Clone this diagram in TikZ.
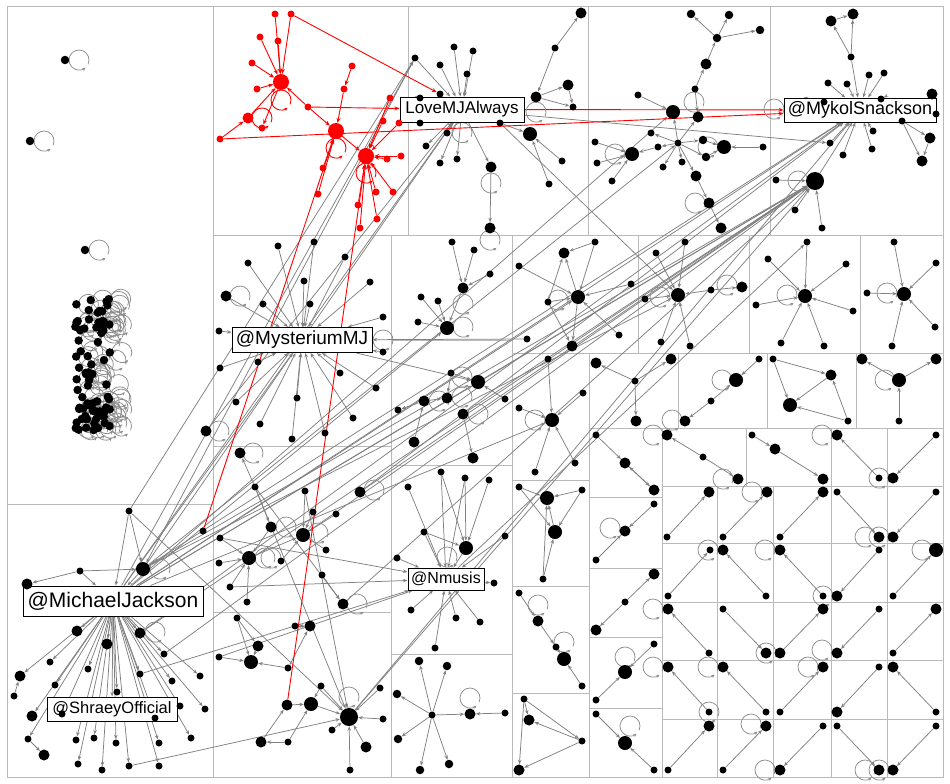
\documentclass[tikz,border=0pt]{standalone}
\usepackage{fontspec}
\setmainfont{Liberation Sans}
\usetikzlibrary{arrows.meta}
\pgfdeclarelayer{bg}
\pgfsetlayers{bg,main}
\definecolor{edg}{RGB}{128,128,128}
\definecolor{lpc}{RGB}{140,140,140}
\definecolor{pan}{RGB}{186,186,186}
\definecolor{rdc}{RGB}{255,0,0}
\tikzset{
 sn/.style={circle,fill=black,draw=none,inner sep=0pt,minimum size=7pt},
 tn/.style={sn,minimum size=8.5pt},
 mn/.style={sn,minimum size=11pt},
 bn/.style={sn,minimum size=14pt},
 hn/.style={sn,minimum size=18pt},
 rsn/.style={sn,fill=rdc},
 rmn/.style={mn,fill=rdc},
 rbn/.style={sn,fill=rdc,minimum size=16pt},
 ge/.style={draw=edg,line width=0.75pt,-{Stealth[length=4.5pt,width=3.5pt]}},
 re/.style={draw=rdc,line width=0.9pt,-{Stealth[length=5pt,width=4pt]}},
 lp/.style={draw=lpc,line width=0.75pt,-{Stealth[length=3.5pt,width=3pt]}},
 rlp/.style={draw=rdc,line width=0.9pt,-{Stealth[length=3.5pt,width=3pt]}},
 pnl/.style={draw=pan,line width=1pt},
 lab/.style={draw=black,fill=white,line width=1pt,inner sep=0pt,text=black},
}
\begin{document}
\begin{tikzpicture}[x=1pt,y=-1pt]
\useasboundingbox (0,0) rectangle (950,784);
% ---------- labels ----------
\node[lab,minimum width=180pt,minimum height=30pt,font=\fontsize{21}{21}\selectfont] (mj) at (113,601) {@MichaelJackson};
\node[lab,minimum width=130pt,minimum height=24pt,font=\fontsize{16.5}{16.5}\selectfont] (sh) at (112,709) {@ShraeyOfficial};
\node[lab,minimum width=140pt,minimum height=25pt,font=\fontsize{19}{19}\selectfont] (mys) at (302,340) {@MysteriumMJ};
\node[lab,minimum width=124pt,minimum height=25pt,font=\fontsize{17}{17}\selectfont] (love) at (462,109.5) {LoveMJAlways};
\node[lab,minimum width=152pt,minimum height=24pt,font=\fontsize{18}{18}\selectfont] (myk) at (860,110) {@MykolSnackson};
\node[lab,minimum width=76pt,minimum height=22pt,font=\fontsize{16}{16}\selectfont] (nm) at (446,579) {@Nmusis};
% ---------- red nodes ----------
\foreach \n/\x/\y in {R1/281/82,R2/336/131,R3/366/156} \node[rbn] (\n) at (\x,\y) {};
\node[rmn] (rA) at (248,118) {};
\foreach \n/\x/\y in {r1/275/14,r2/291/14,r3/260/37,r4/278/41,r5/252/63,r6/257/89,r7/262/128,r8/220/139,r9/308/107,r10/352/66,r11/344/89,r12/390/98,r13/383/121,r14/399/123,r15/401/156,r16/387/159,r17/323/168,r18/318/194,r19/358/205,r20/360/228,r21/376/192,r22/377/219,r23/393/192} \node[rsn] (\n) at (\x,\y) {};
% ---------- small nodes ----------
\foreach \n/\x/\y in {
 l1/415/58,l2/440/65,l3/454/47,l4/473/51,l5/467/74,l6/440/94,l7/420/98,l8/420/123,l9/447/133,l10/426/146,l11/440/163,l12/457/159,l15/500/123,l18/573/107,l20/562/161,l21/549/184,l22/555/48,
 k6/695/89,k9/638/95,k10/651/133,k11/678/143,k12/658/147,k16/763/147,k17/682/162,k18/663/167,k23/595/142,k24/597/163,k25/612/181,
 y3/851/57,y4/828/83,y5/847/84,y6/869/75,y7/884/73,y8/881/99,y9/824/102,y11/936/114,y12/902/121,y13/873/131,y16/830/143,y17/843/155,y18/872/149,y20/776/180,y21/795/210,y22/822/228,
 t1/278/246,t2/314/242,t3/248/263,t4/345/257,t5/304/281,t6/370/282,t8/263/304,t9/310/304,t10/383/317,t11/219/331,t12/383/352,t13/220/368,t14/258/362,t15/340/373,t16/376/388,t17/297/398,t18/236/402,t19/260/424,t20/325/433,t21/292/439,t22/353/418,
 p1/203/531,p2/220/538,p4/219/563,p5/230/587,p6/247/602,p9/326/550,p10/281/561,p11/255/487,p12/305/491,p13/313/512,p14/336/514,p16/322/575,
 u1/237/618,u4/219/657,u5/288/668,u6/295/626,u10/321/686,u12/332/730,u14/383/719,u15/380/688,u17/288/742,u18/350/770,
 v1/452/242,v2/474/250,v3/490/274,v5/421/297,v6/438/301,v8/418/322,
 w1/451/373,w5/398/410,w9/505/399,
 n1/441/472,n2/465/478,n3/489/480,n4/408/487,n5/424/532,n7/505/536,n8/397/558,n9/494/583,n10/411/610,n11/456/618,n12/480/622,n13/435/648,
 x4/432/715,x6/505/713,
 a1/595/242,a3/519/266,a5/631/284,a6/548/302,a7/527/339,a8/619/335,
 b1/656/253,b2/685/242,b4/645/299,b5/711/290,b7/661/342,b8/690/346,
 c1/807/242,c2/768/259,c3/846/264,c5/756/305,c6/853/311,c7/781/343,c8/824/346,
 d1/894/242,d2/936/263,d3/867/293,d5/935/327,d6/892/346,
 e1/548/359,e2/583/393,e3/519/408,e5/535/472,e6/575/463,
 f1/519/487,f3/582/490,f5/543/579,g1/519/593,g3/556/647,g5/582/686,h1/524/699,h3/582/741,
 i2/635/381,j1/759/359,j3/711/401,o1/773/359,o4/848/421,z4/899/421,
 m1/703/457,m4/752/435,m8/879/478,m9/936/435,m11/596/435,m14/654/504,m16/596/560,m18/625/602,m20/654/644,m22/596/700,m23/596/714,m25/654/770,
 G1a/667/537,G2a/723/537,G3a/780/537,G4a/837/492,G5a/936/492,G6a/668/596,G6b/710/550,G7b/766/596,G8b/823/596,G9a/879/550,G10b/893/596,G11b/709/653,G12a/723/609,G14a/879/609,G15b/893/653,G16b/709/712,G17b/766/712,G18b/780/712,G19a/879/667,G20b/936/712,G21a/668/770,G22a/723/770,G23b/823/726,G24a/837/726,G25a/936/726,
 M1/129/511,M2/80/571,M8/50/662,M10/14/696,M11/88/669,M12/55/685,M13/117/692,M14/140/674,M15/164/654,M16/172/681,M17/200/676,M18/205/709,M19/180/706,M21/62/714,M22/155/718,M23/28/739,M25/76/740,M26/94/738,M27/116/743,M28/159/743,M29/191/738,M30/78/764,M31/102/770,M32/129/766,M33/159/766}
 \node[sn] (\n) at (\x,\y) {};
\foreach \n/\x/\y in {P1/65/60,P2/30/141,P3/85/250,k1/691/14,k2/729/15,k3/760/30,k4/717/38,k13/703/140,k14/706/157,x1/419/661,x2/447/666,x3/397/694,x7/398/739,x8/420/770,x9/449/764}
 \node[tn] (\n) at (\x,\y) {};
% ---------- medium nodes ----------
\foreach \n/\x/\y in {l13/491/167,l14/490/228,l16/536/97,l17/568/85,l23/581/13,
 k5/706/64,k7/698/117,k19/696/176,k20/709/203,k21/721/228,
 y1/853/14,y2/831/21,y10/932/94,y14/930/138,y15/922/161,
 t7/226/296,t23/206/431,p7/271/527,p15/360/492,p17/343/604,p18/240/453,
 u2/258/646,u7/310/626,u8/287/705,u13/366/747,u16/261/742,v4/463/288,
 w3/447/398,w4/424/401,w6/463/414,w7/414/442,w8/473/458,x5/470/714,
 a2/564/253,a9/572/346,b6/742/287,g2/538/621,h2/529/720,h4/519/770,
 i1/596/363,i3/671/359,i4/636/421,j4/685/421,o2/831/375,z1/862/359,z2/936/359,
 m2/667/435,m3/738/479,m5/775/449,m6/823/479,m7/837/435,m10/893/478,m12/625/463,m13/654/490,m15/625/531,m17/654/574,m19/596/630,
 G1b/709/492,G2b/767/492,G3b/823/492,G4b/879/537,G5b/893/537,G7a/723/550,G8a/780/550,G9b/837/596,G11a/668/609,G12b/766/653,G13a/780/653,G13b/823/609,G14b/837/653,G15a/936/609,G16a/668/667,G17a/723/667,G18a/823/667,G19b/837/712,G20a/893/667,G21b/709/726,G22b/766/726,G23a/780/770,G24b/879/770,G25b/893/770,
 M3/27/584,M5/77/631,M6/107/644,M7/140/633,M9/20/676,M20/32/716,M24/44/755}
 \node[mn] (\n) at (\x,\y) {};
% ---------- big nodes ----------
\foreach \n/\x/\y in {l19/530/134,k8/673/112,k15/724/147,k22/632/154,p3/249/558,p8/303/535,u3/251/662,u9/311/704,v7/447/328,w2/478/382,n6/466/548,a4/578/297,b3/678/295,c4/805/296,d4/904/294,e4/552/420,f2/547/498,f4/555/532,g4/564/659,j2/736/380,o3/790/405,z3/899/380,m21/625/672,m24/625/743,G10a/936/550,M4/143/569}
 \node[bn] (\n) at (\x,\y) {};
\foreach \n/\x/\y in {y19/815/181,u11/349/717} \node[hn] (\n) at (\x,\y) {};
% ---------- dense cluster ----------
\pgfmathsetseed{12}
\foreach \i in {1,...,75}{
 \pgfmathsetmacro{\cx}{75+36*rnd}
 \pgfmathsetmacro{\cy}{298+134*rnd}
 \node[tn] (cl\i) at (\cx,\cy) {};
 \begin{pgfonlayer}{bg}\draw[lp] ([xshift=12pt]cl\i.center) ++(-25:10pt) arc[start angle=-25,end angle=310,radius=10pt];\end{pgfonlayer}
}
\begin{pgfonlayer}{bg}
% ---------- panels ----------
\foreach \xa/\ya/\xb/\yb in {7/7/943/777,7/7/213/504,7/504/213/777,213/7/408/235,408/7/588/235,588/7/770/235,770/7/943/235,
 213/235/391/446,213/446/391/612,213/612/391/777,391/235/512/340,391/340/512/465,391/465/512/654,391/654/512/777,
 512/235/638/353,638/235/749/353,749/235/860/353,860/235/943/353,
 512/353/589/480,512/480/589/586,512/586/589/693,512/693/589/777,
 589/353/678/428,678/353/767/428,767/353/856/428,856/353/943/428,
 589/428/662/497,589/497/662/568,589/568/662/637,589/637/662/708,589/708/662/777,
 662/428/746/486,746/428/831/486,831/428/887/486,887/428/943/486}
 \draw[pnl] (\xa,\ya) rectangle (\xb,\yb);
\foreach \xa/\xb in {662/717,717/773,773/831,831/887,887/943}
 \foreach \ya/\yb in {486/543,543/602,602/660,660/719,719/777}
  \draw[pnl] (\xa,\ya) rectangle (\xb,\yb);
% ---------- gray edges ----------
\foreach \a/\b in {
 l1/love,l2/love,l3/love,l4/love,l5/love,l6/love,l7/love,l8/love,love/l9,love/l10,love/l11,love/l12,love/l13,l13/l14,l15/love,l15/l19,l16/l17,l16/l18,l17/l18,l20/l19,l21/l19,l22/l23,l22/l16,
 k4/k1,k4/k2,k4/k3,k5/k4,k6/k5,k6/k7,k9/k8,k11/k8,k11/k7,k11/k10,k11/k12,k11/k13,k11/k14,k11/k17,k11/k18,k11/k19,k13/k15,k14/k15,k16/k15,k19/k20,k20/k21,k23/k22,k24/k22,k25/k22,k12/k22,
 y3/y1,y3/y2,y2/y1,y3/myk,y4/myk,y5/myk,y6/myk,y7/myk,y9/myk,myk/y12,y12/y14,y12/y15,y14/y15,y10/y11,y16/myk,y17/myk,y18/myk,y13/myk,y19/myk,y20/y19,y21/y19,y22/y19,y8/myk,
 t1/mys,t2/mys,t3/mys,t4/mys,t5/mys,t6/mys,t7/mys,t8/mys,t9/mys,t10/mys,t11/mys,t12/mys,t13/mys,t14/mys,t15/mys,t16/mys,t17/mys,t18/mys,t19/mys,t20/mys,t21/mys,t22/mys,
 p2/p3,p4/p3,p5/p3,p6/p3,p7/p3,p3/p8,p10/p8,p12/p8,p13/p8,p14/p8,p9/p8,p11/p7,p11/p18,p16/p17,p11/p17,
 u1/u2,u1/u3,u4/u3,u5/u3,u2/u3,u6/u7,u7/u6,u5/u7,u8/u9,u10/u9,u10/u11,u9/u11,u12/u11,u13/u11,u14/u11,u15/u11,u18/u11,u17/u16,u16/u8,u17/u9,
 v1/v4,v2/v4,v3/v4,v4/v7,v5/v7,v6/v7,v8/v7,
 w1/w3,w1/w2,w4/w3,w4/w5,w7/w4,w6/w8,w9/w2,
 n1/n6,n2/n6,n3/n6,n5/n6,n4/nm,n1/nm,n2/nm,n7/nm,n8/nm,nm/n9,n10/nm,n11/nm,n12/nm,n13/nm,n5/nm,n6/nm,
 x4/x1,x4/x2,x4/x3,x4/x5,x6/x5,x4/x7,x4/x8,x4/x9,
 a1/a2,a1/a4,a4/a2,a3/a4,a5/a4,a6/a4,a8/a4,a4/a9,a6/a2,a6/a9,
 b1/b3,b2/b3,b4/b3,b5/b3,b5/b6,b7/b3,b8/b3,
 c1/c4,c2/c4,c3/c4,c5/c4,c6/c4,c7/c4,c8/c4,
 d1/d4,d2/d4,d3/d4,d5/d4,d6/d4,
 e1/e4,e2/e4,e3/e4,e5/e4,e6/e4,
 f1/f2,f3/f2,f1/f4,f3/f4,f5/f2,f5/f4,f4/f2,
 g1/g2,g2/g3,g3/g4,g5/g4,h1/h2,h1/h3,h3/h2,h1/h4,h3/h4,
 i2/i1,i2/i3,i2/i4,j1/j2,j3/j2,j3/j4,o1/o2,o1/o3,o2/o3,o4/o3,o4/o2,z3/z1,z3/z2,z4/z3,
 m1/m2,m1/m3,m4/m5,m5/m6,m8/m7,m9/m10,m11/m12,m12/m13,m13/m12,m14/m15,m16/m15,m18/m17,m18/m19,m20/m21,m22/m21,m23/m24,m25/m24,
 G1a/G1b,G2a/G2b,G3a/G3b,G4a/G4b,G5a/G5b,G6a/G6b,G7b/G7a,G8b/G8a,G9a/G9b,G10b/G10a,G11b/G11a,G12a/G12b,G13a/G13b,G14a/G14b,G15b/G15a,G16b/G16a,G17b/G17a,G18b/G18a,G19a/G19b,G20b/G20a,G21a/G21b,G22a/G22b,G23b/G23a,G24a/G24b,G25a/G25b,
 M1/M4,M2/M3,M2/M4,M1/mj,M2/mj,M4/mj,mj/M5,mj/M6,mj/M7,mj/M8,M10/M9,mj/M9,mj/M11,mj/M12,mj/M13,mj/M14,mj/M15,mj/M16,mj/M17,mj/M18,mj/M19,mj/M20,M23/M24,mj/M23,mj/M25,mj/M26,mj/M27,mj/M28,mj/M29,mj/M30,mj/M31,mj/M32,mj/M33,mj/sh,mj/M21,mj/M22,
 mj/love,M4/love,M1/l1,mj/l1,mj/myk,M7/myk,M4/myk,mj/y19,M4/y19,M15/y19,M7/y19,mj/mys,M4/k11,mj/k8,mj/a4,M4/b3,mj/w2,mj/v7,u11/y19,u11/myk,w2/y19,w6/y19,p8/y19,p15/myk,p15/y19,love/y16,l15/b3,p2/nm,p5/nm,u4/nm,M32/u11,p11/u11,p12/u11,a7/mys,mys/w2,nm/c1,t23/love,l1/M4,M14/nm,p17/y19,mj/e4,M1/u11}
 \draw[ge] (\a) -- (\b);
% ---------- red edges ----------
\foreach \a/\b in {r1/R1,r2/R1,r3/R1,r4/R1,r5/R1,r6/R1,rA/R1,R1/r7,r8/rA,r9/R1,r9/R2,r10/r11,r11/R2,R2/R3,r12/R3,r13/R3,r14/R3,r15/R3,r16/R3,r19/R3,r20/R3,r21/R3,r22/R3,r23/R3,r17/R2,r18/R2,r2/l6,r9/love,love/myk,r8/myk,p1/R2,u8/R3}
 \draw[re] (\a) -- (\b);
% ---------- loops ----------
\foreach \n/\dx/\dy in {P1/14/0,P2/14/0,P3/14/0,l13/0/16,l14/0/12,l16/0/15,k7/-4/-15,k22/-17/0,k14/2/-10,k20/-14/0,y19/-17/0,t7/14/0,t23/13/0,p7/15/0,p8/15/-2,p3/16/0,p3/22/0,p18/13/0,p17/14/0,p15/14/-2,u11/0/-20,v4/0/16,v7/16/-1,w1/11/4,w4/15/0,w3/15/-1,w6/15/0,x5/0/-16,a6/10/-2,b4/15/-2,b6/-15/-2,c4/-18/-1,d4/-17/-1,e4/-17/0,g2/0/-16,g4/0/-17,j2/-14/0,j4/-13/-1,z3/-14/0,m2/-14/0,m3/-15/0,m7/-15/0,m8/0/0,m15/-15/-3,m21/0/-15,m24/5/-17,G2b/-15/0,G4b/-14/0,G4b/0/0,G6b/-2/0,G8a/-15/0,G8b/0/0,G10a/-14/0,G11a/-15/0,G12b/0/0,G14b/-15/-3,G16a/-15/0,G16b/0/0,G17a/-15/0,G18a/-15/0,G22b/-15/-2,G23a/-15/0,G24b/-14/0,G24b/0/0,M4/17/0,M7/15/-1,love/0/23,myk/-86/-1,mys/81/0,nm/1/-22}
 \draw[lp] ([shift={(\dx,\dy)}]\n.center) ++(-25:10pt) arc[start angle=-25,end angle=310,radius=10pt];
\foreach \n/\dx/\dy in {R1/0/18,rA/14/0,R2/0/17,R3/0/17}
 \draw[rlp] ([shift={(\dx,\dy)}]\n.center) ++(-25:10pt) arc[start angle=-25,end angle=310,radius=10pt];
\end{pgfonlayer}
\end{tikzpicture}
\end{document}
